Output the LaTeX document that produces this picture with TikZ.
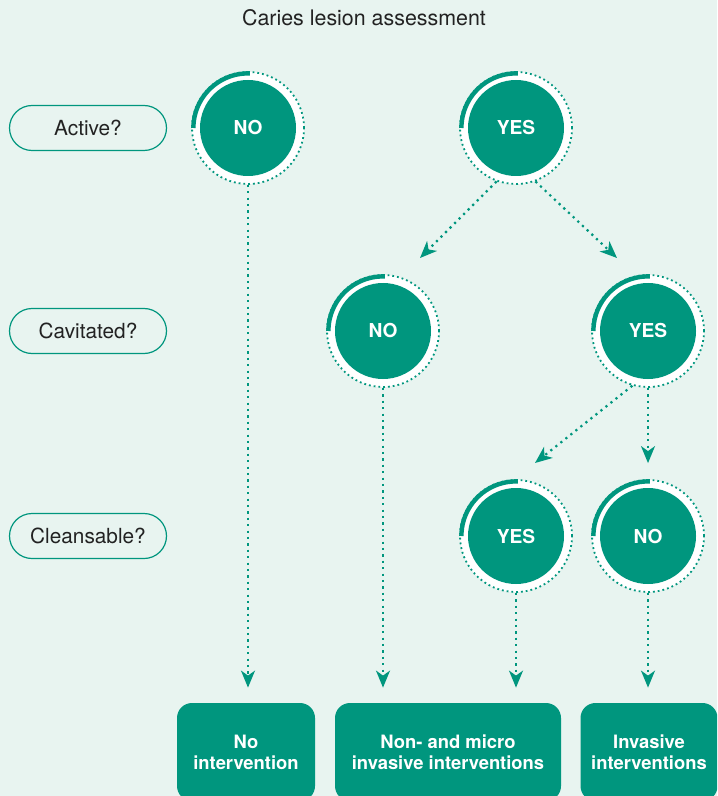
\documentclass[tikz,border=0pt]{standalone}
\usepackage{fontspec}
\setmainfont{TeX Gyre Heros}
\usepackage{tikz}
\usetikzlibrary{arrows.meta, positioning}
\usepackage{xcolor}
\definecolor{cteal}{HTML}{00967E}
\definecolor{mint}{HTML}{E8F4F0}
\definecolor{inkgray}{HTML}{222222}

\tikzset{
  question/.style={draw=cteal, line width=0.6pt, fill=mint, text=inkgray,
    rounded corners=11.25pt, minimum width=78.5pt, minimum height=22.5pt,
    font=\fontsize{10.4}{12}\selectfont},
  answer/.style={circle, fill=white, draw=cteal, line width=0.9pt,
    dash pattern=on 0.9pt off 1.5pt, minimum size=56pt, inner sep=0pt,
    text=white, font=\fontsize{9.6}{11}\bfseries\selectfont,
    path picture={\fill[cteal] (path picture bounding box.center) circle (24pt);}},
  arcmark/.style={cteal, line width=2.2pt},
  outcome/.style={fill=cteal, text=white, rounded corners=7.5pt,
    minimum height=49pt, align=center, inner sep=0pt,
    font=\fontsize{9.2}{10.5}\bfseries\selectfont},
  flow/.style={cteal, line width=1.1pt, dash pattern=on 1.1pt off 2.1pt,
    -{Stealth[length=8.5pt, width=7pt, inset=2.5pt]}},
}

\begin{document}
\begin{tikzpicture}[x=0.5pt, y=-0.5pt]

    %% ── Canvas ────────────────────────────────────────────────────────────
    \useasboundingbox (0,0) rectangle (717,796);
    \clip (0,0) rectangle (717,796);
    \fill[mint] (0,0) rectangle (717,796);

    \node[inkgray, font=\fontsize{10.7}{12}\selectfont] (title) at (364,18)
      {Caries lesion assessment};

    %% ── Questions ─────────────────────────────────────────────────────────
    \node[question] (qact) at (88,128) {Active?};
    \node[question] (qcav) at (88,331) {Cavitated?};
    \node[question] (qcln) at (88,536) {Cleansable?};

    %% ── Answers ───────────────────────────────────────────────────────────
    \node[answer] (actno)  at (248,128) {NO};
    \node[answer] (actyes) at (516,128) {YES};
    \node[answer] (cavno)  at (383,331) {NO};
    \node[answer] (cavyes) at (648,331) {YES};
    \node[answer] (clnyes) at (516,536) {YES};
    \node[answer] (clnno)  at (648,536) {NO};

    % thick quarter arcs, upper left of each ring
    \foreach \n in {actno, actyes, cavno, cavyes, clnyes, clnno}
      \draw[arcmark] ([xshift=-27.3pt]\n.center) arc (180:88:27.3pt);

    %% ── Outcomes ──────────────────────────────────────────────────────────
    \node[outcome, minimum width=69pt]   (none)     at (246,752)
      {No\\intervention};
    \node[outcome, minimum width=113pt]  (micro)    at (448,752)
      {Non- and micro\\invasive interventions};
    \node[outcome, minimum width=68.5pt] (invasive) at (649,752)
      {Invasive\\interventions};

    %% ── Connectors ────────────────────────────────────────────────────────
    \coordinate (tocavno)  at (420,258);
    \coordinate (tocavyes) at (617,258);
    \coordinate (toclnyes) at (535,463);

    \draw[flow] (actyes.250) -- (tocavno);
    \draw[flow] (actyes.290) -- (tocavyes);
    \draw[flow] (cavyes.254) -- (toclnyes);
    \draw[flow, shorten >=8pt] (cavyes.south) -- (clnno.north);

    \draw[flow, shorten >=7.5pt] (actno.south)  -- (actno.south  |- none.north);
    \draw[flow, shorten >=7.5pt] (cavno.south)  -- (cavno.south  |- micro.north);
    \draw[flow, shorten >=7.5pt] (clnyes.south) -- (clnyes.south |- micro.north);
    \draw[flow, shorten >=7.5pt] (clnno.south)  -- (clnno.south  |- invasive.north);

\end{tikzpicture}
\end{document}
